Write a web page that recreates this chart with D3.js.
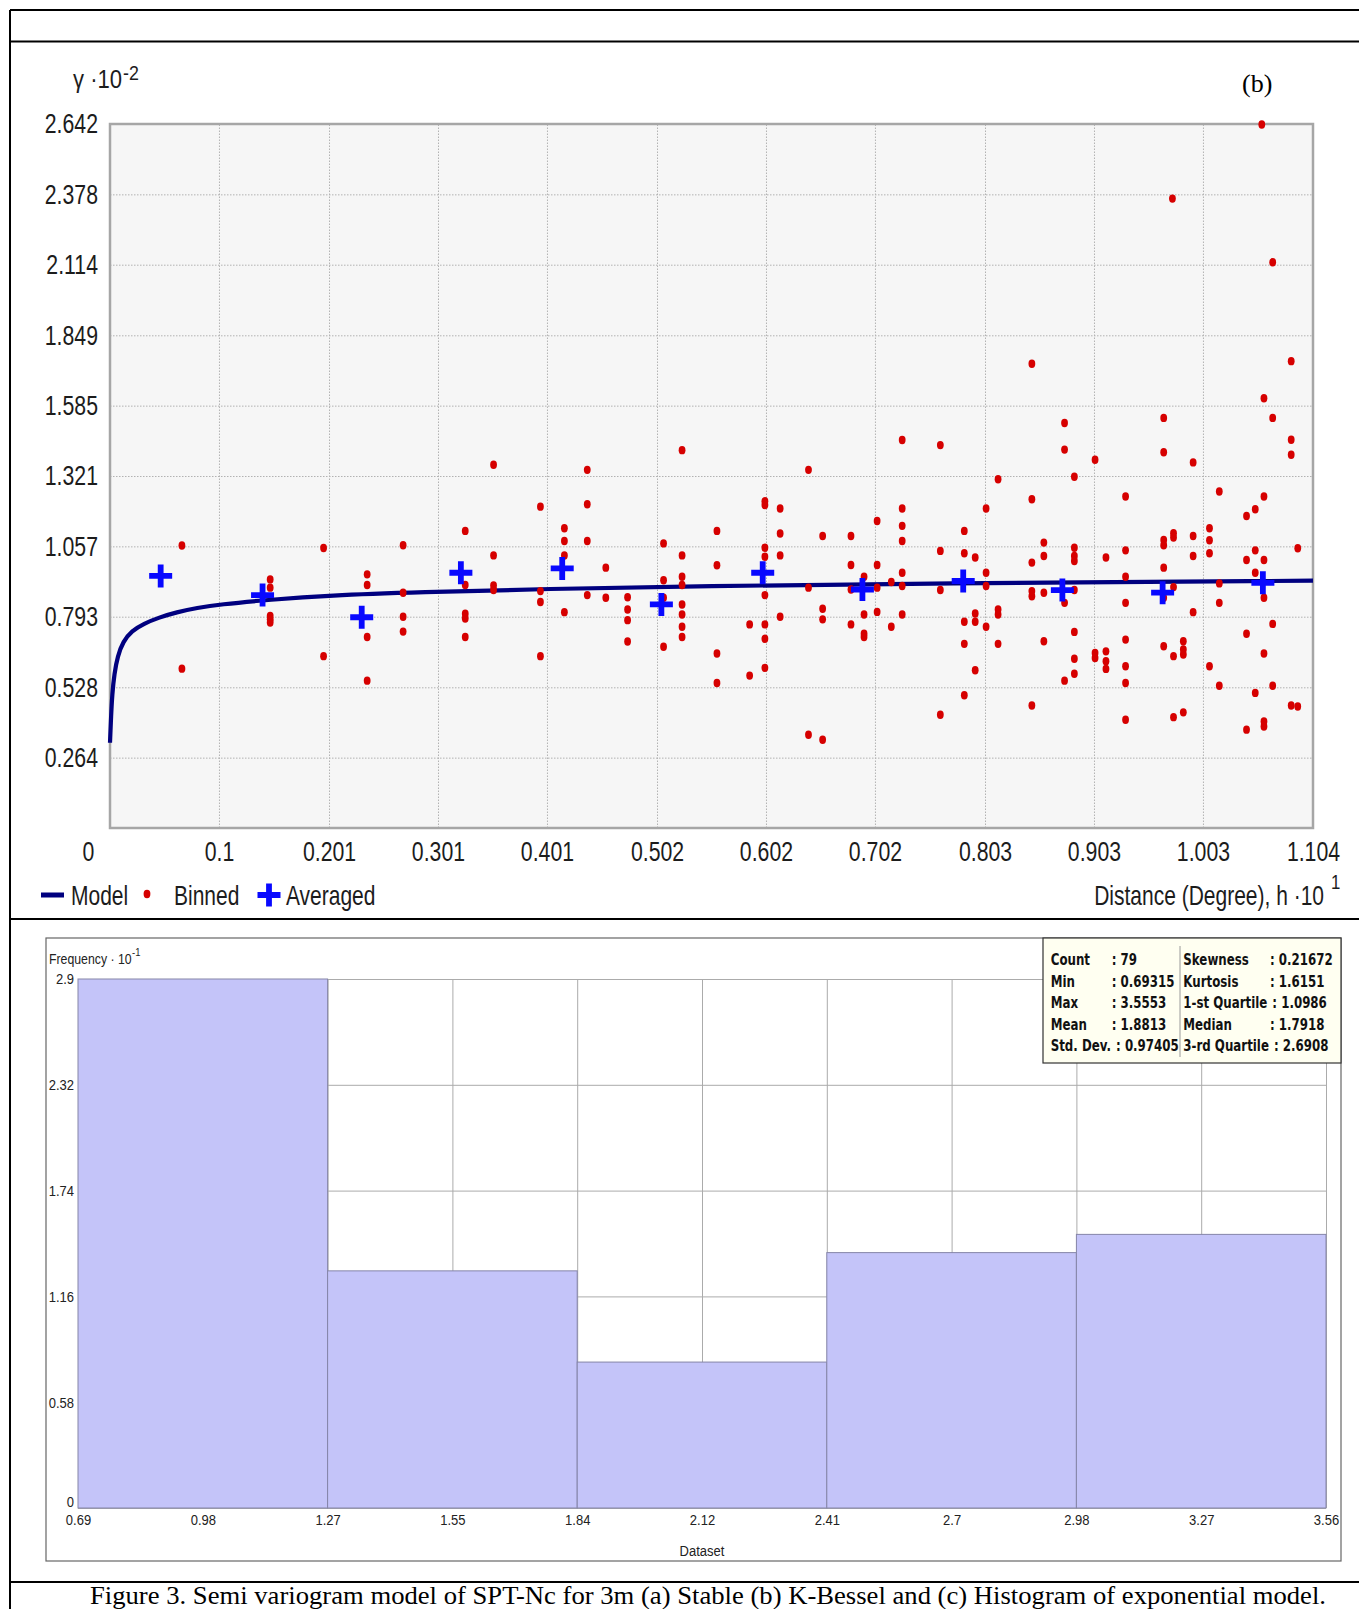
<!DOCTYPE html>
<html>
<head>
<meta charset="utf-8">
<script src="https://cdn.jsdelivr.net/npm/d3@7"></script>
<style>
  body { margin: 0; background: #fff; }
  svg { display: block; }
</style>
</head>
<body>
<svg id="fig" width="1359" height="1609"></svg>
<script>
// ---------- variogram (b) ----------
const xTicks = [0, 0.1, 0.201, 0.301, 0.401, 0.502, 0.602, 0.702, 0.803, 0.903, 1.003, 1.104];
const yTicks = [0.264, 0.528, 0.793, 1.057, 1.321, 1.585, 1.849, 2.114, 2.378, 2.642];

// model curve (h, gamma)
const modelH = [0, 0.001, 0.002, 0.004, 0.007, 0.012, 0.02, 0.031, 0.045, 0.061, 0.08, 0.1, 0.147, 0.2, 0.284, 0.4, 0.541, 0.75, 1.104];
const modelG = [0.32, 0.42, 0.50, 0.58, 0.645, 0.70, 0.74, 0.767, 0.79, 0.81, 0.826, 0.839, 0.857, 0.873, 0.885, 0.897, 0.908, 0.918, 0.928];

// averaged (blue crosses)
const avgH = [0.0465, 0.140, 0.231, 0.322, 0.415, 0.506, 0.599, 0.6905, 0.783, 0.874, 0.966, 1.058];
const avgG = [0.946, 0.874, 0.791, 0.958, 0.974, 0.839, 0.958, 0.895, 0.927, 0.893, 0.883, 0.920];

// binned (red dots) [h, gamma]
const binned = [
  [0.066,1.060],[0.066,0.598],[0.147,0.933],[0.147,0.902],[0.147,0.796],[0.147,0.783],[0.147,0.771],
  [0.196,1.051],[0.196,0.645],[0.236,0.952],[0.236,0.912],[0.236,0.717],[0.236,0.553],
  [0.269,1.061],[0.269,0.883],[0.269,0.793],[0.269,0.737],
  [0.326,1.115],[0.326,0.912],[0.326,0.804],[0.326,0.786],[0.326,0.717],
  [0.352,1.363],[0.352,1.023],[0.352,0.910],[0.352,0.893],
  [0.395,1.206],[0.395,0.889],[0.395,0.848],[0.395,0.645],
  [0.417,1.125],[0.417,1.077],[0.417,1.023],[0.417,0.810],
  [0.438,1.344],[0.438,1.215],[0.438,1.077],[0.438,0.874],
  [0.455,0.977],[0.455,0.864],[0.475,0.866],[0.475,0.820],[0.475,0.780],[0.475,0.700],
  [0.508,1.068],[0.508,0.930],[0.508,0.864],[0.508,0.680],
  [0.525,1.418],[0.525,1.023],[0.525,0.943],[0.525,0.912],[0.525,0.839],[0.525,0.801],[0.525,0.755],[0.525,0.717],
  [0.557,1.115],[0.557,0.986],[0.557,0.655],[0.557,0.544],
  [0.587,0.764],[0.587,0.572],
  [0.601,1.226],[0.601,1.212],[0.601,1.052],[0.601,1.018],[0.601,0.874],[0.601,0.764],[0.601,0.710],[0.601,0.601],
  [0.615,1.199],[0.615,1.105],[0.615,1.023],[0.615,0.793],
  [0.641,1.344],[0.641,0.902],[0.641,0.350],[0.654,1.096],[0.654,0.823],[0.654,0.783],[0.654,0.331],
  [0.680,1.096],[0.680,0.987],[0.680,0.895],[0.680,0.764],
  [0.692,0.943],[0.692,0.801],[0.692,0.729],[0.692,0.717],
  [0.704,1.152],[0.704,0.987],[0.704,0.902],[0.704,0.811],[0.717,0.923],[0.717,0.755],
  [0.727,1.456],[0.727,1.199],[0.727,1.134],[0.727,1.077],[0.727,0.958],[0.727,0.908],[0.727,0.801],
  [0.762,1.437],[0.762,1.040],[0.762,0.893],[0.762,0.425],
  [0.784,1.115],[0.784,1.031],[0.784,0.774],[0.784,0.691],[0.784,0.498],
  [0.794,1.015],[0.794,0.805],[0.794,0.774],[0.794,0.592],
  [0.804,1.199],[0.804,0.958],[0.804,0.908],[0.804,0.755],
  [0.815,1.309],[0.815,0.820],[0.815,0.801],[0.815,0.691],
  [0.846,1.742],[0.846,1.234],[0.846,0.996],[0.846,0.889],[0.846,0.870],[0.846,0.460],
  [0.857,1.071],[0.857,1.021],[0.857,0.883],[0.857,0.701],
  [0.876,1.520],[0.876,1.420],[0.876,0.845],[0.876,0.553],
  [0.885,1.318],[0.885,1.052],[0.885,1.021],[0.885,1.002],[0.885,0.893],[0.885,0.736],[0.885,0.635],[0.885,0.579],
  [0.904,1.382],[0.904,0.657],[0.904,0.638],[0.914,1.015],[0.914,0.663],[0.914,0.626],[0.914,0.597],
  [0.932,1.244],[0.932,1.042],[0.932,0.943],[0.932,0.845],[0.932,0.707],[0.932,0.607],[0.932,0.544],[0.932,0.406],
  [0.967,1.539],[0.967,1.410],[0.967,1.081],[0.967,1.061],[0.967,0.977],[0.967,0.864],[0.967,0.682],
  [0.976,1.106],[0.976,1.090],[0.976,0.904],[0.976,0.645],[0.976,0.416],[0.975,2.362],
  [0.985,0.701],[0.985,0.670],[0.985,0.651],[0.985,0.434],
  [0.994,1.372],[0.994,1.096],[0.994,1.021],[0.994,0.810],
  [1.009,1.125],[1.009,1.080],[1.009,1.031],[1.009,0.607],
  [1.018,1.263],[1.018,0.918],[1.018,0.845],[1.018,0.534],
  [1.043,1.171],[1.043,1.006],[1.043,0.729],[1.043,0.369],
  [1.051,1.196],[1.051,1.042],[1.051,0.958],[1.051,0.507],
  [1.059,1.613],[1.059,1.244],[1.059,1.006],[1.059,0.864],[1.059,0.655],[1.059,0.400],[1.059,0.381],[1.057,2.640],
  [1.067,2.123],[1.067,1.539],[1.067,0.766],[1.067,0.534],
  [1.084,1.752],[1.084,1.457],[1.084,1.401],[1.084,0.460],[1.090,1.050],[1.090,0.456]
];

// ---------- histogram (c) ----------
const histTicks = [0.69315, 0.97937, 1.26558, 1.5518, 1.83801, 2.12423, 2.41044, 2.69666, 2.98287, 3.26909, 3.5553];
const histTickLabels = ["0.69", "0.98", "1.27", "1.55", "1.84", "2.12", "2.41", "2.7", "2.98", "3.27", "3.56"];
const binEdges = [0.69315, 1.26558, 1.83801, 2.41044, 2.98287, 3.5553];
const binFreq = [2.9, 1.3, 0.8, 1.4, 1.5];
const freqTicks = [0, 0.58, 1.16, 1.74, 2.32, 2.9];

const statsLeftLabels = ["Count", "Min", "Max", "Mean", "Std. Dev."];
const statsLeftValues = [": 79", ": 0.69315", ": 3.5553", ": 1.8813", ": 0.97405"];
const statsRightLabels = ["Skewness", "Kurtosis", "1-st Quartile", "Median", "3-rd Quartile"];
const statsRightValues = [": 0.21672", ": 1.6151", ": 1.0986", ": 1.7918", ": 2.6908"];

const caption = "Figure 3. Semi variogram model of SPT-Nc for 3m (a) Stable (b) K-Bessel and (c) Histogram of exponential model.";

// ---------- helpers ----------
const SANS = "'Liberation Sans', Arial, sans-serif";
const BOLD = "'DejaVu Sans', Verdana, sans-serif";
const SERIF = "'Liberation Serif', 'Times New Roman', Times, serif";
const W = 1359, H = 1609;
const svg = d3.select("#fig");

// narrow the glyphs horizontally around the text anchor point
function squeeze(sel, k) {
  sel.each(function () {
    const t = d3.select(this);
    const x = +t.attr("x") || 0, y = +t.attr("y") || 0;
    t.attr("transform", `translate(${x},${y}) scale(${k},1) translate(${-x},${-y})`);
  });
}

function txt(parent, x, y, s, o = {}) {
  const t = parent.append("text")
    .attr("x", x).attr("y", y)
    .attr("font-family", o.family || SANS)
    .attr("font-size", o.size || 28)
    .attr("font-weight", o.weight || "normal")
    .attr("text-anchor", o.anchor || "start")
    .attr("fill", o.fill || "#1c1c1c")
    .text(s);
  if (o.k) squeeze(t, o.k);
  return t;
}

// ---------- frame ----------
const frame = svg.append("g").attr("stroke", "#000").attr("stroke-width", 2);
[10, 41.5, 919, 1582].forEach(y => {
  frame.append("line").attr("x1", 10).attr("x2", W).attr("y1", y).attr("y2", y);
});
frame.append("line").attr("x1", 10).attr("x2", 10).attr("y1", 10).attr("y2", H);

// ---------- variogram ----------
const vx = d3.scaleLinear().domain([0, 1.104]).range([110, 1313]);
const vy = d3.scaleLinear().domain([0, 2.642]).range([828, 124]);
const pv = svg.append("g");

pv.append("rect")
  .attr("x", vx(0)).attr("y", vy(2.642))
  .attr("width", vx(1.104) - vx(0)).attr("height", vy(0) - vy(2.642))
  .attr("fill", "#f6f6f6");

const xAxis = pv.append("g")
  .attr("transform", `translate(0,${vy(0)})`)
  .call(d3.axisBottom(vx).tickValues(xTicks).tickFormat(d => d)
    .tickSize(-(vy(0) - vy(2.642))).tickPadding(13));
xAxis.select(".domain").remove();
xAxis.selectAll(".tick line").attr("stroke", "#b2b2b2").attr("stroke-dasharray", "1.5,1.5");
xAxis.selectAll(".tick text")
  .attr("font-family", SANS).attr("font-size", 28).attr("fill", "#1c1c1c");
xAxis.selectAll(".tick text").filter(d => d === 0).attr("x", -22);
squeeze(xAxis.selectAll(".tick text"), 0.76);

const yAxis = pv.append("g")
  .attr("transform", `translate(${vx(0)},0)`)
  .call(d3.axisLeft(vy).tickValues(yTicks).tickFormat(d => d)
    .tickSize(-(vx(1.104) - vx(0))).tickPadding(12));
yAxis.select(".domain").remove();
yAxis.selectAll(".tick line").attr("stroke", "#b2b2b2").attr("stroke-dasharray", "1.5,1.5");
yAxis.selectAll(".tick text")
  .attr("font-family", SANS).attr("font-size", 28).attr("fill", "#1c1c1c");
squeeze(yAxis.selectAll(".tick text"), 0.76);

pv.append("rect")
  .attr("x", vx(0)).attr("y", vy(2.642))
  .attr("width", vx(1.104) - vx(0)).attr("height", vy(0) - vy(2.642))
  .attr("fill", "none").attr("stroke", "#a6a6a6").attr("stroke-width", 2.5);

// model line
const modelLine = d3.line()
  .x((d, i) => vx(modelH[i]))
  .y(d => vy(d))
  .curve(d3.curveBasis);
pv.append("path")
  .datum(modelG)
  .attr("fill", "none")
  .attr("stroke", "#00007f")
  .attr("stroke-width", 4.2)
  .attr("d", modelLine);

// binned dots
pv.append("g").selectAll("ellipse")
  .data(binned)
  .join("ellipse")
  .attr("cx", d => vx(d[0]))
  .attr("cy", d => vy(d[1]))
  .attr("rx", 3.4)
  .attr("ry", 4.2)
  .attr("fill", "#d60000");

// averaged crosses
const crossPath = "M-11.5,0H11.5M0,-11.5V11.5";
pv.append("g").selectAll("path")
  .data(avgG)
  .join("path")
  .attr("transform", (d, i) => `translate(${vx(avgH[i])},${vy(d)})`)
  .attr("d", crossPath)
  .attr("stroke", "#0808ff")
  .attr("stroke-width", 5.8)
  .attr("fill", "none");

// titles
txt(pv, 73, 88, "γ ·10", { size: 26, k: 0.85 });
txt(pv, 123, 80, "-2", { size: 21, k: 0.85 });
txt(pv, 1242, 92, "(b)", { family: SERIF, size: 26, fill: "#000" });

// legend
const lg = pv.append("g");
lg.append("rect").attr("x", 41).attr("y", 892.5).attr("width", 23).attr("height", 5).attr("fill", "#00007f");
txt(lg, 71, 905, "Model", { k: 0.75 });
lg.append("ellipse").attr("cx", 147).attr("cy", 894).attr("rx", 3.4).attr("ry", 4.2).attr("fill", "#d60000");
txt(lg, 174, 905, "Binned", { k: 0.75 });
lg.append("path").attr("transform", "translate(269,895)").attr("d", crossPath)
  .attr("stroke", "#0808ff").attr("stroke-width", 5.8);
txt(lg, 286, 905, "Averaged", { k: 0.75 });
txt(lg, 1324, 905, "Distance (Degree), h ·10", { anchor: "end", k: 0.75 });
txt(lg, 1331, 889, "1", { size: 21, k: 0.8 });

// ---------- histogram ----------
const ph = svg.append("g");
const hx = d3.scaleLinear().domain([binEdges[0], binEdges[binEdges.length - 1]]).range([78, 1326]);
const hy = d3.scaleLinear().domain([0, 2.9]).range([1508, 979]);

ph.append("rect")
  .attr("x", 46).attr("y", 938).attr("width", 1295).attr("height", 623)
  .attr("fill", "#fff").attr("stroke", "#666").attr("stroke-width", 1.2);

const hxAxis = ph.append("g")
  .attr("transform", `translate(0,${hy(0)})`)
  .call(d3.axisBottom(hx).tickValues(histTicks).tickFormat((d, i) => histTickLabels[i])
    .tickSize(-(hy(0) - hy(2.9))).tickPadding(6));
hxAxis.select(".domain").remove();
hxAxis.selectAll(".tick line").attr("stroke", "#ababab");
hxAxis.selectAll(".tick text")
  .attr("font-family", SANS).attr("font-size", 15.5).attr("fill", "#222");
squeeze(hxAxis.selectAll(".tick text"), 0.84);

const hyAxis = ph.append("g")
  .attr("transform", `translate(${hx.range()[0]},0)`)
  .call(d3.axisLeft(hy).tickValues(freqTicks).tickFormat(d => d)
    .tickSize(-(hx.range()[1] - hx.range()[0])).tickPadding(4));
hyAxis.select(".domain").remove();
hyAxis.selectAll(".tick line").attr("stroke", "#ababab");
hyAxis.selectAll(".tick text")
  .attr("font-family", SANS).attr("font-size", 15.5).attr("fill", "#222");
// the "0" label sits a little above the base line, clear of the x labels
hyAxis.selectAll(".tick text").filter(d => d === 0).attr("y", -6);
squeeze(hyAxis.selectAll(".tick text"), 0.84);

ph.append("g").selectAll("rect")
  .data(binFreq)
  .join("rect")
  .attr("x", (d, i) => hx(binEdges[i]))
  .attr("y", d => hy(d))
  .attr("width", (d, i) => hx(binEdges[i + 1]) - hx(binEdges[i]))
  .attr("height", d => hy(0) - hy(d))
  .attr("fill", "#c4c4f9")
  .attr("stroke", "#8585a8")
  .attr("stroke-width", 1);

txt(ph, 49, 964, "Frequency · 10", { size: 15, k: 0.82, fill: "#222" });
txt(ph, 132, 956, "-1", { size: 10.5, k: 0.9, fill: "#222" });
txt(ph, (hx.range()[0] + hx.range()[1]) / 2, 1556, "Dataset", { size: 15.5, k: 0.84, anchor: "middle", fill: "#222" });

// statistics box
const sb = ph.append("g");
sb.append("rect")
  .attr("x", 1043).attr("y", 938).attr("width", 298).attr("height", 125)
  .attr("fill", "#fffff1").attr("stroke", "#333").attr("stroke-width", 1.2);
sb.append("line").attr("x1", 1180).attr("x2", 1180).attr("y1", 946).attr("y2", 1057)
  .attr("stroke", "#9a9a9a");

function statColumn(labels, values, x, tab) {
  labels.forEach((s, i) => {
    const y = 965.5 + i * 21.5;
    const t = txt(sb, x, y, s, { family: BOLD, size: 16, weight: "bold", k: 0.74, fill: "#111" });
    const end = x + 0.74 * t.node().getComputedTextLength();
    txt(sb, Math.max(tab, end + 5), y, values[i], { family: BOLD, size: 16, weight: "bold", k: 0.74, fill: "#111" });
  });
}
statColumn(statsLeftLabels, statsLeftValues, 1050.7, 1111.7);
statColumn(statsRightLabels, statsRightValues, 1183.3, 1270);

// ---------- caption ----------
svg.append("text")
  .attr("x", 90).attr("y", 1604)
  .attr("font-family", SERIF).attr("font-size", 26)
  .attr("textLength", 1236).attr("lengthAdjust", "spacingAndGlyphs")
  .attr("fill", "#000")
  .text(caption);
</script>
</body>
</html>
